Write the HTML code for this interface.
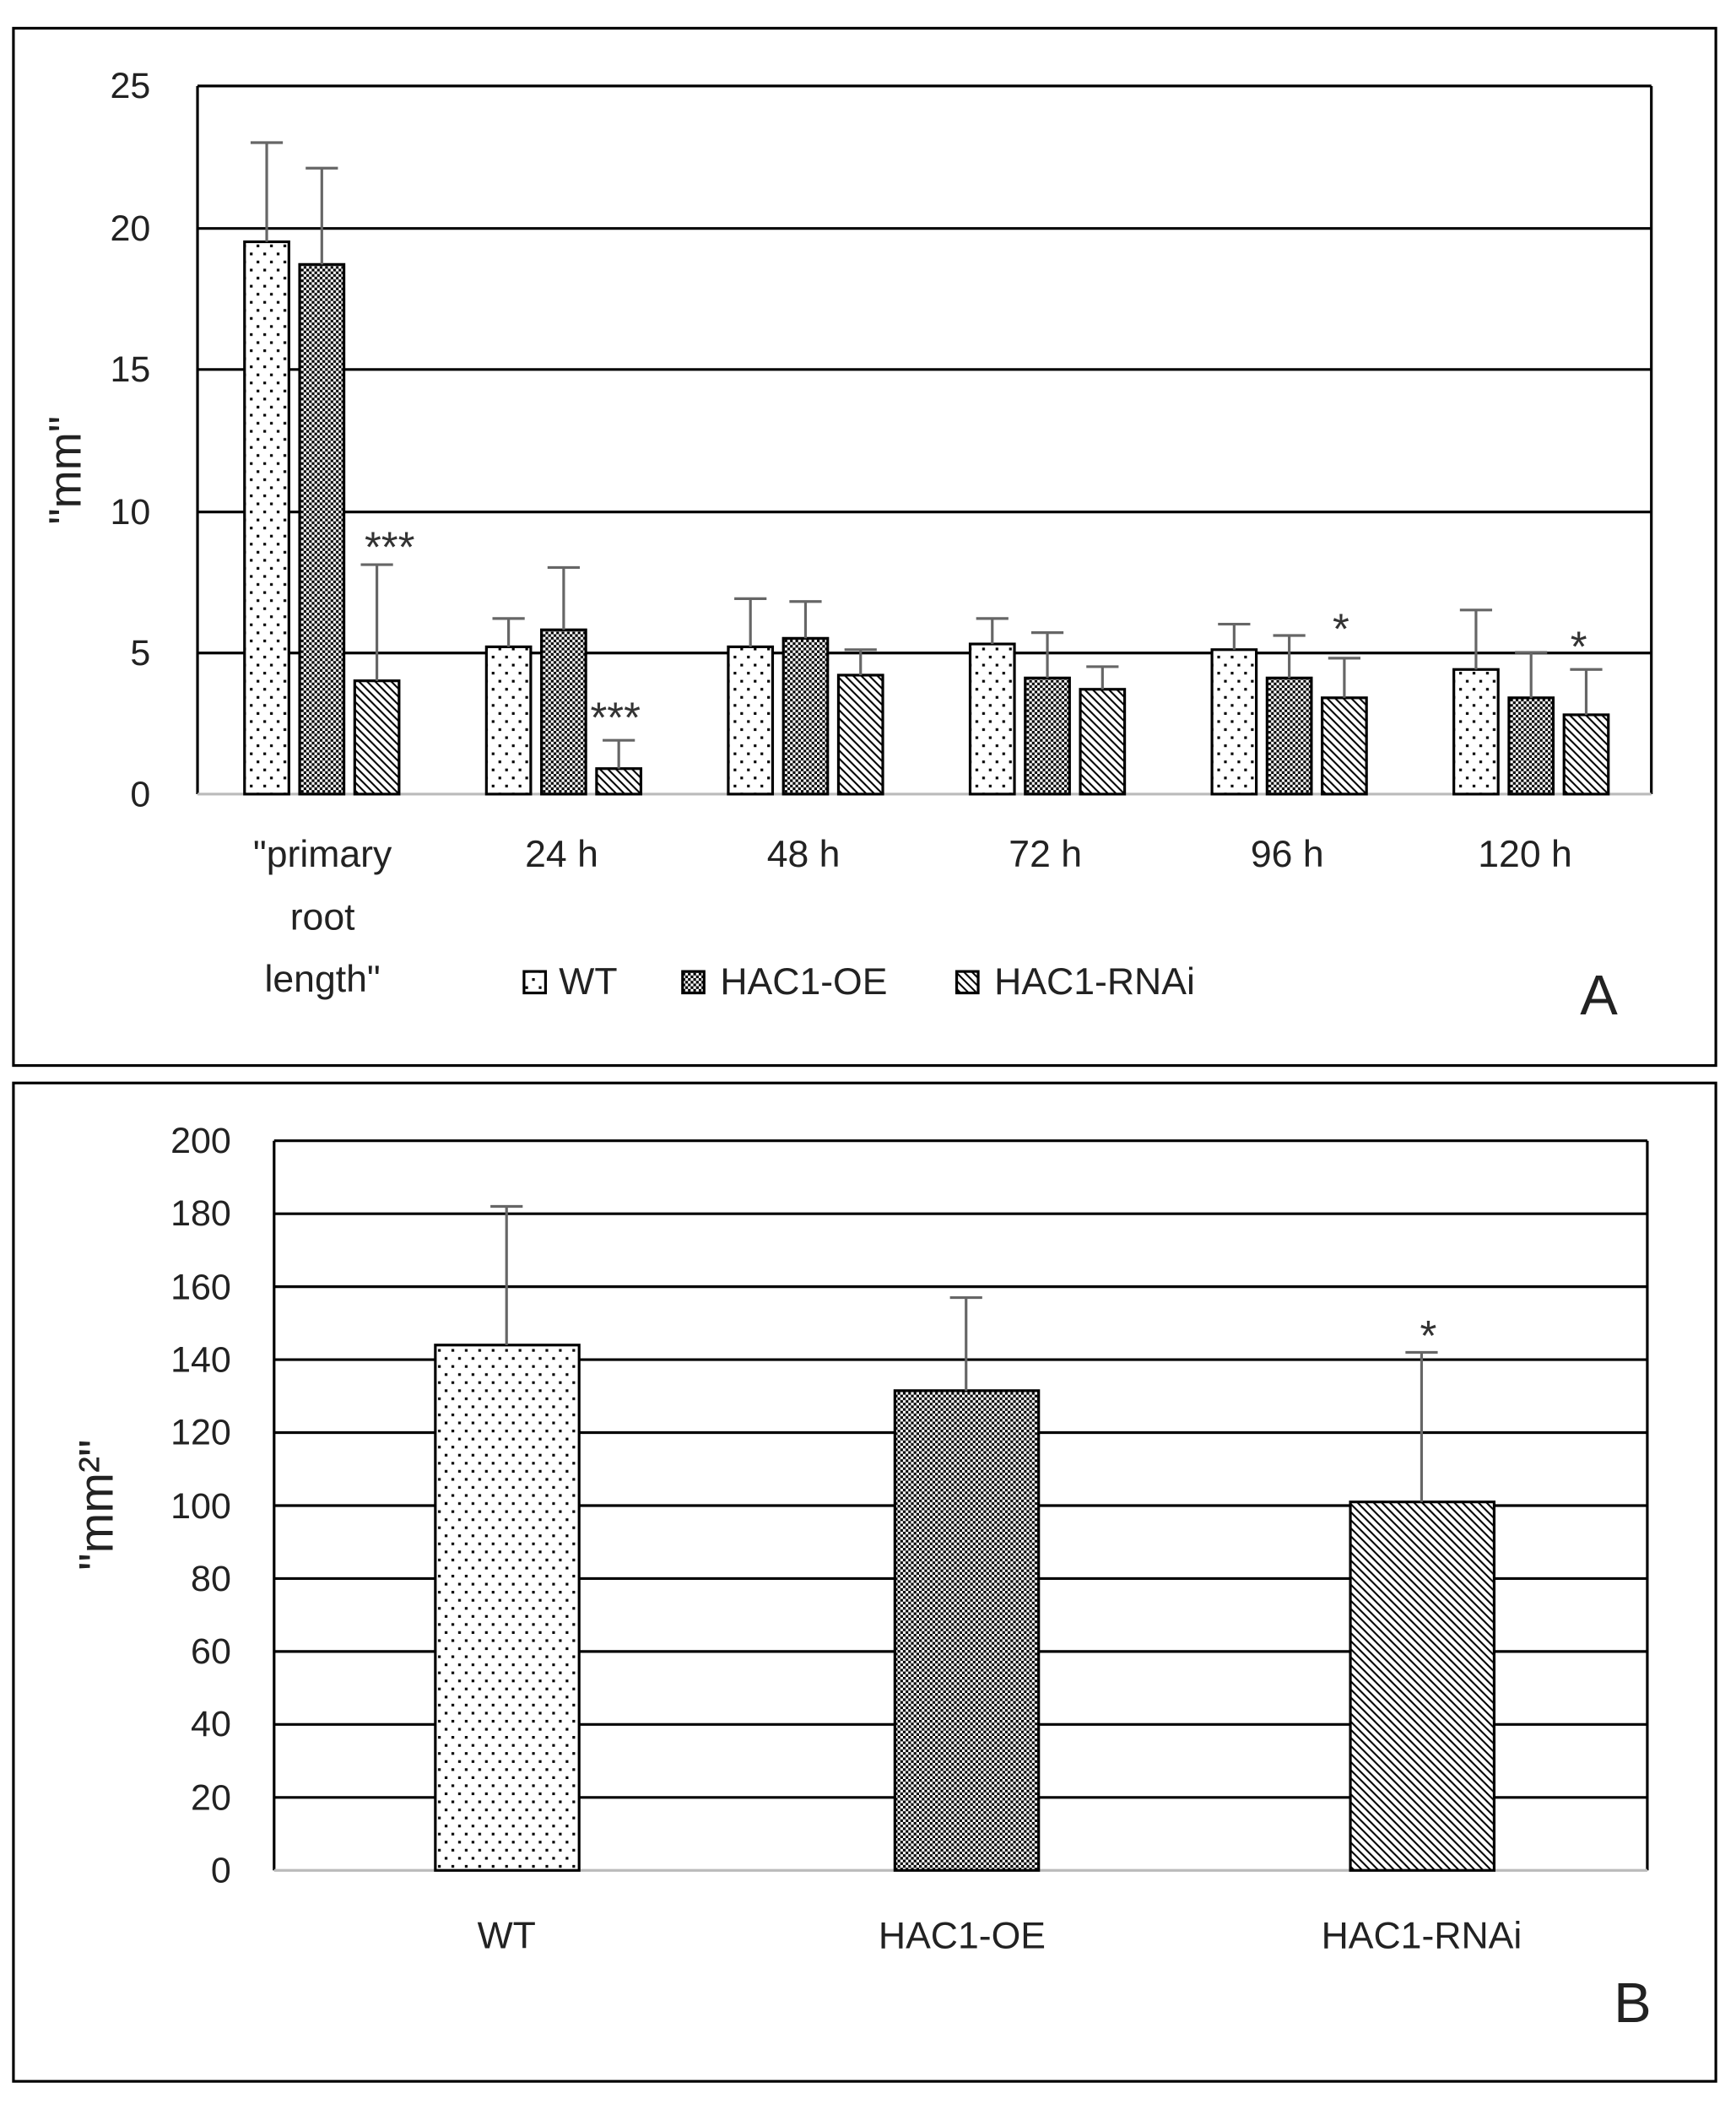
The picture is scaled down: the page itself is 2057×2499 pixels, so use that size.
<!DOCTYPE html>
<html><head><meta charset="utf-8"><style>html,body{margin:0;padding:0;background:#fff}svg{display:block}</style></head>
<body>
<svg width="2057" height="2499" viewBox="0 0 1292 1569.6" preserveAspectRatio="none" xmlns="http://www.w3.org/2000/svg" font-family="Liberation Sans, DejaVu Sans, sans-serif">
<defs>
<pattern id="dots" width="10" height="12" patternUnits="userSpaceOnUse"><rect x="1" y="2" width="2" height="2" fill="#000"/><rect x="6" y="8" width="2" height="2" fill="#000"/></pattern>
<pattern id="chk" width="4" height="4" patternUnits="userSpaceOnUse"><rect width="2" height="2" fill="#000"/><rect x="2" y="2" width="2" height="2" fill="#000"/></pattern>
<pattern id="hatch" width="6" height="6" patternUnits="userSpaceOnUse"><path d="M-1,-1 L7,7 M-4,2 L2,8 M4,-2 L10,4" stroke="#000" stroke-width="1.3"/></pattern>
</defs>
<rect width="1292" height="1570" fill="#fff"/>
<!-- Panel A -->
<rect x="10" y="21" width="1267" height="772" fill="none" stroke="#000" stroke-width="2"/>
<g stroke="#000" stroke-width="2">
<line x1="147" y1="64" x2="1229" y2="64"/><line x1="147" y1="170" x2="1229" y2="170"/><line x1="147" y1="275" x2="1229" y2="275"/><line x1="147" y1="381" x2="1229" y2="381"/><line x1="147" y1="486" x2="1229" y2="486"/>
<line x1="147" y1="64" x2="147" y2="591"/><line x1="1229" y1="64" x2="1229" y2="591"/>
</g>
<line x1="147" y1="591" x2="1229" y2="591" stroke="#bbb" stroke-width="2"/>
<g font-size="27" fill="#222" text-anchor="end">
<text x="112" y="73">25</text><text x="112" y="179">20</text><text x="112" y="284">15</text><text x="112" y="390">10</text><text x="112" y="495">5</text><text x="112" y="600">0</text>
</g>
<text transform="translate(60,350) rotate(-90)" font-size="34" fill="#222" text-anchor="middle">"mm"</text>
<!-- Panel B frame/grid -->
<rect x="10" y="806" width="1267" height="743" fill="none" stroke="#000" stroke-width="2"/>
<g stroke="#000" stroke-width="2">
<line x1="204" y1="849" x2="1226" y2="849"/><line x1="204" y1="903.3" x2="1226" y2="903.3"/><line x1="204" y1="957.6" x2="1226" y2="957.6"/><line x1="204" y1="1011.9" x2="1226" y2="1011.9"/><line x1="204" y1="1066.2" x2="1226" y2="1066.2"/><line x1="204" y1="1120.5" x2="1226" y2="1120.5"/><line x1="204" y1="1174.8" x2="1226" y2="1174.8"/><line x1="204" y1="1229.1" x2="1226" y2="1229.1"/><line x1="204" y1="1283.4" x2="1226" y2="1283.4"/><line x1="204" y1="1337.7" x2="1226" y2="1337.7"/>
<line x1="204" y1="849" x2="204" y2="1392"/><line x1="1226" y1="849" x2="1226" y2="1392"/>
</g>
<line x1="204" y1="1392" x2="1226" y2="1392" stroke="#bbb" stroke-width="2"/>
<script>
(function(){
var ns="http://www.w3.org/2000/svg";var svg=document.querySelector("svg");
function el(t,a){var e=document.createElementNS(ns,t);for(var k in a)e.setAttribute(k,a[k]);svg.appendChild(e);return e;}
function bar(x,y,w,h,f){el("rect",{x:x,y:y,width:w,height:h,fill:"#fff"});el("rect",{x:x,y:y,width:w,height:h,fill:f,stroke:"#000","stroke-width":2});}
var y0=591,s=21.08;
var data=[[19.5,23],[18.7,22.1],[4,8.1],[5.2,6.2],[5.8,8],[0.9,1.9],[5.2,6.9],[5.5,6.8],[4.2,5.1],[5.3,6.2],[4.1,5.7],[3.7,4.5],[5.1,6.0],[4.1,5.6],[3.4,4.8],[4.4,6.5],[3.4,5.0],[2.8,4.4]];
var fills=["url(#dots)","url(#chk)","url(#hatch)"];
var centers=[238,418,598,778,958,1138];
for(var g=0;g<6;g++)for(var i=0;i<3;i++){var d=data[g*3+i];var x=centers[g]-56+i*41;var top=y0-d[0]*s;
bar(x,top,33,y0-top,fills[i]);
var cx=x+16.5,et=y0-d[1]*s;el("line",{x1:cx,y1:top,x2:cx,y2:et,stroke:"#666","stroke-width":2});el("line",{x1:cx-12,y1:et,x2:cx+12,y2:et,stroke:"#666","stroke-width":2});}
var B=[[377,144,182,"url(#dots)"],[719,131.5,157,"url(#chk)"],[1058,101,142,"url(#hatch)"]];
var yb=1392,sb=543/200;
B.forEach(function(b){var top=yb-b[1]*sb;bar(b[0]-53,top,107,yb-top,b[3]);
var et=yb-b[2]*sb;el("line",{x1:b[0],y1:top,x2:b[0],y2:et,stroke:"#666","stroke-width":2});el("line",{x1:b[0]-12,y1:et,x2:b[0]+12,y2:et,stroke:"#666","stroke-width":2});});
})();
</script>
<g font-size="32" fill="#333" text-anchor="middle">
<text x="290" y="418">***</text><text x="458" y="545">***</text><text x="998" y="479">*</text><text x="1175" y="492">*</text>
</g>
<g font-size="28" fill="#222" text-anchor="middle">
<text x="240" y="645">"primary</text><text x="240" y="692">root</text><text x="240" y="738">length"</text>
<text x="418" y="645">24 h</text><text x="598" y="645">48 h</text><text x="778" y="645">72 h</text><text x="958" y="645">96 h</text><text x="1135" y="645">120 h</text>
</g>
<rect x="390" y="723" width="16" height="16" fill="url(#dots)" stroke="#000" stroke-width="2"/>
<text x="416" y="740" font-size="28" fill="#222">WT</text>
<rect x="508" y="723" width="16" height="16" fill="url(#chk)" stroke="#000" stroke-width="2"/>
<text x="536" y="740" font-size="28" fill="#222">HAC1-OE</text>
<rect x="712" y="723" width="16" height="16" fill="url(#hatch)" stroke="#000" stroke-width="2"/>
<text x="740" y="740" font-size="28" fill="#222">HAC1-RNAi</text>
<text x="1190" y="755" font-size="42" fill="#222" text-anchor="middle">A</text>
<g font-size="27" fill="#222" text-anchor="end">
<text x="172" y="858">200</text><text x="172" y="912">180</text><text x="172" y="967">160</text><text x="172" y="1021">140</text><text x="172" y="1075">120</text><text x="172" y="1130">100</text><text x="172" y="1184">80</text><text x="172" y="1238">60</text><text x="172" y="1292">40</text><text x="172" y="1347">20</text><text x="172" y="1401">0</text>
</g>
<text transform="translate(84,1120) rotate(-90)" font-size="36" fill="#222" text-anchor="middle">"mm²"</text>
<text x="1063" y="1005" font-size="32" fill="#333" text-anchor="middle">*</text>
<g font-size="28" fill="#222" text-anchor="middle">
<text x="377" y="1450">WT</text><text x="716" y="1450">HAC1-OE</text><text x="1058" y="1450">HAC1-RNAi</text>
</g>
<text x="1215" y="1505" font-size="42" fill="#222" text-anchor="middle">B</text>
</svg>
</body></html>
